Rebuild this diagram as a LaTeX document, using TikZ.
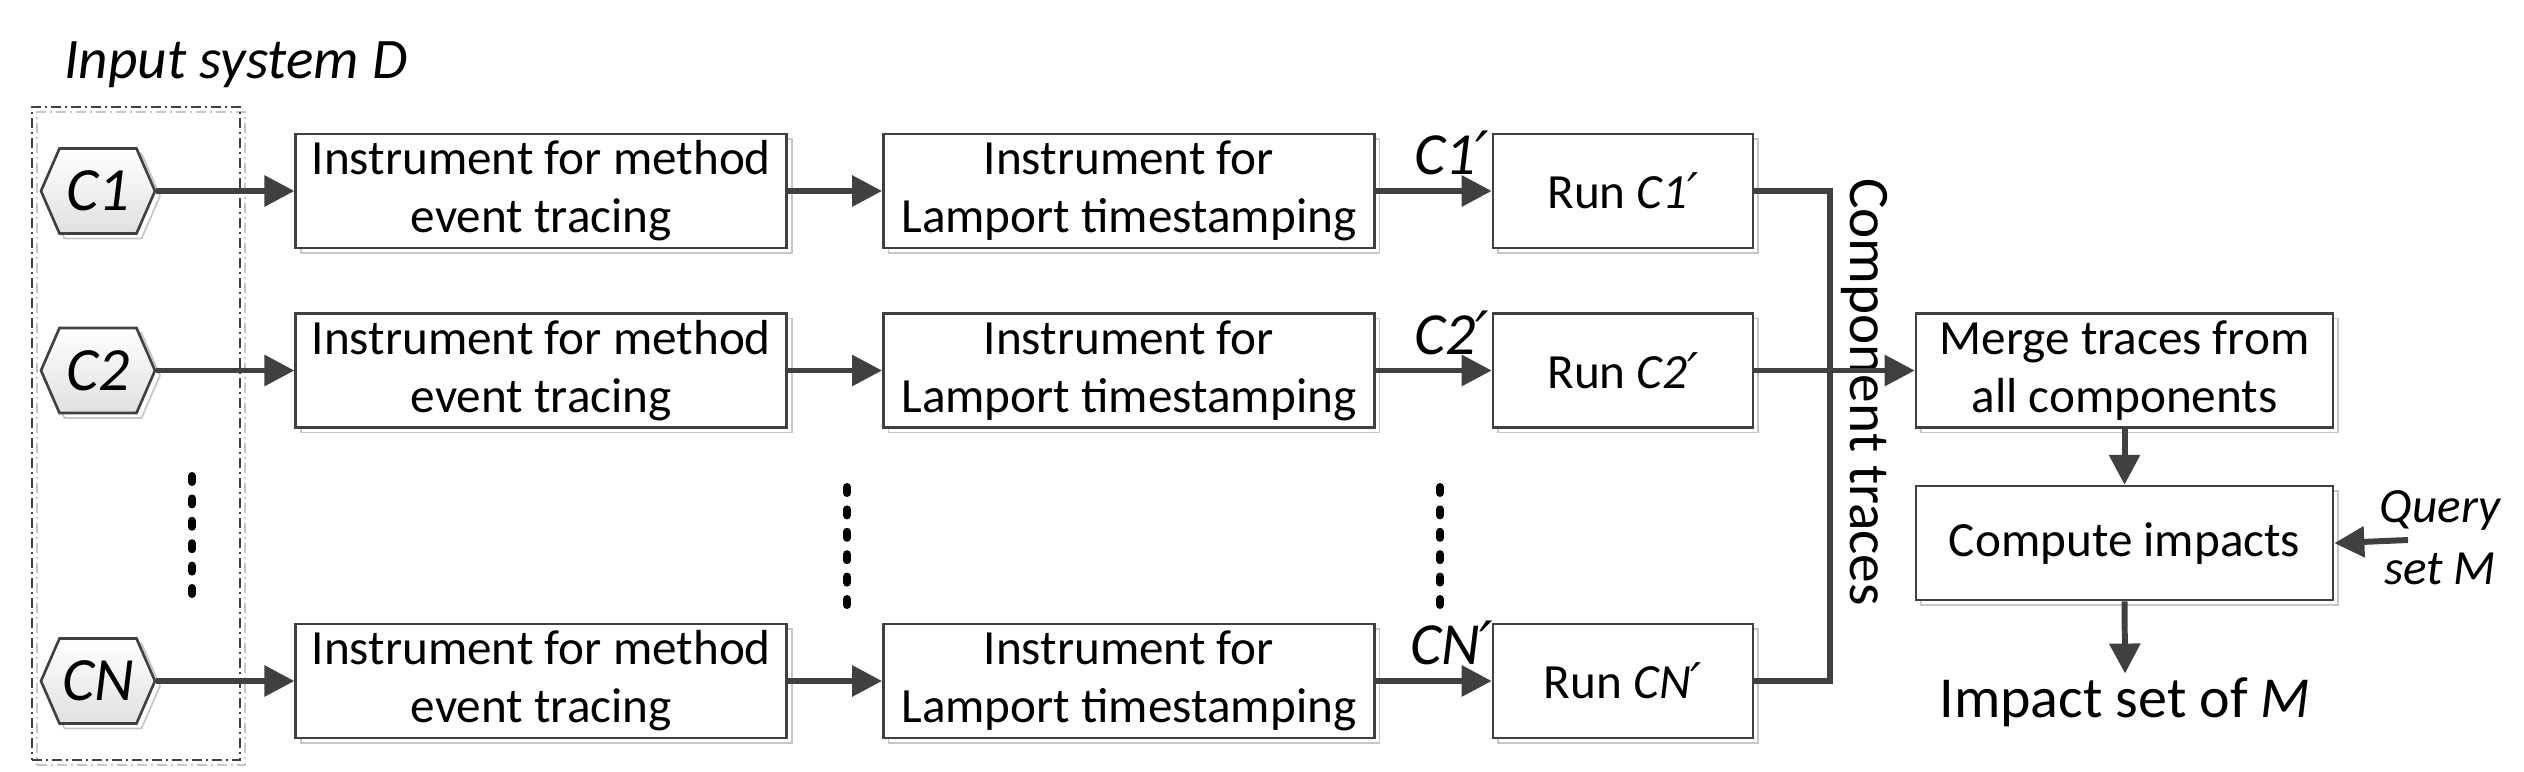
\documentclass[tikz,border=0pt]{standalone}
\usepackage{fontspec}
\setmainfont{Carlito}
\newfontfamily\primefont{DejaVu Sans}
\newcommand{\prm}{{\primefont\itshape ′}}
\usetikzlibrary{arrows.meta}
\usetikzlibrary{positioning}
\usetikzlibrary{shapes.symbols}
\usetikzlibrary{shadows}
\definecolor{linegray}{HTML}{404040}

\begin{document}
\begin{tikzpicture}[
    >={Triangle[length=0.3cm,width=0.3cm]},
    boxShadow/.style={
        drop shadow={shadow xshift=0.05cm, shadow yshift=-0.05cm,
        opacity=1, fill=none, draw=black!22, line width=0.5pt}
    },
    compHex/.style={
        signal, signal to=east and west, signal pointer angle=133,
        draw=linegray, line width=0.75pt,
        top color=white, bottom color=black!12,
        minimum width=1.14cm, minimum height=0.85cm,
        inner sep=0pt, boxShadow,
        font=\fontsize{17.5}{20}\selectfont\itshape
    },
    stepBox/.style={
        rectangle, draw=linegray, line width=0.75pt, fill=white,
        minimum width=4.91cm,
        minimum height=1.14cm,
        inner sep=0pt, align=center, boxShadow,
        font=\fontsize{14}{16.5}\selectfont
    },
    runBox/.style={stepBox, minimum width=2.6cm},
    mergeBox/.style={stepBox, minimum width=4.17cm},
    flowArrow/.style={->, draw=linegray, line width=1.7pt},
    busLine/.style={draw=linegray, line width=1.7pt},
    compLabel/.style={inner sep=0pt, font=\fontsize{17}{20}\selectfont\itshape},
    vDots/.style={line width=0.08cm, line cap=round, dash pattern=on 0.06cm off 0.164cm},
    sysBox/.style={
        draw=linegray, line width=0.5pt,
        dash pattern=on 0.1cm off 0.04cm on 0.02cm off 0.04cm,
        minimum width=2.08cm, minimum height=6.53cm, boxShadow
    }
]
\useasboundingbox (0,0) rectangle (25.24,-7.71);

% input system
\node[anchor=base, font=\fontsize{16.3}{19}\selectfont\itshape] (sysLabel) at (2.36,-0.79) {Input system D};
\node[sysBox] (sys) at (1.36,-4.335) {};
\node[compHex] (c1) at (0.98,-1.91) {C1};
\node[compHex] (c2) at (0.98,-3.705) {C2};
\node[compHex] (cN) at (0.98,-6.81) {CN};

% per-component pipelines
\node[stepBox, right=1.38cm of c1] (trace1) {Instrument for method\\event tracing};
\node[stepBox, right=0.94cm of trace1] (stamp1) {Instrument for\\Lamport timestamping};
\node[runBox, right=1.16cm of stamp1] (run1) {Run \textit{C1}\prm};
\node[stepBox, right=1.38cm of c2] (trace2) {Instrument for method\\event tracing};
\node[stepBox, right=0.94cm of trace2] (stamp2) {Instrument for\\Lamport timestamping};
\node[runBox, right=1.16cm of stamp2] (run2) {Run \textit{C2}\prm};
\node[stepBox, right=1.38cm of cN] (traceN) {Instrument for method\\event tracing};
\node[stepBox, right=0.94cm of traceN] (stampN) {Instrument for\\Lamport timestamping};
\node[runBox, right=1.16cm of stampN] (runN) {Run \textit{CN}\prm};

% analysis
\node[mergeBox] (merge) at (21.245,-3.705) {Merge traces from\\all components};
\node[mergeBox, below=0.56cm of merge] (compute) {Compute impacts};
\node[anchor=base, inner sep=0.03cm, font=\fontsize{16.5}{19}\selectfont] (impact) at (21.25,-7.17) {Impact set of \textit{M}};
\node[align=center, inner sep=0pt, font=\fontsize{14}{17.6}\selectfont\itshape] (query) at (24.40,-5.38) {Query\\set M};
\coordinate (queryIn) at (24.08,-5.40);
\coordinate (bus) at (18.30,-3.705);
\node[rotate=-90, anchor=base, inner sep=0pt, font=\fontsize{16.3}{19}\selectfont] (traces) at (18.50,-3.92) {Component traces};

\draw[vDots] (1.92,-4.76) -- (1.92,-5.95);
\draw[vDots] (8.47,-4.87) -- (8.47,-6.06);
\draw[vDots] (14.40,-4.87) -- (14.40,-6.06);

\draw[flowArrow] (c1.east) -- (trace1.west);
\draw[flowArrow] (trace1.east) -- (stamp1.west);
\draw[flowArrow] (stamp1.east) -- node[compLabel, pos=0.655, above=0.13cm] {C1\prm} (run1.west);
\draw[flowArrow] (c2.east) -- (trace2.west);
\draw[flowArrow] (trace2.east) -- (stamp2.west);
\draw[flowArrow] (stamp2.east) -- node[compLabel, pos=0.655, above=0.13cm] {C2\prm} (run2.west);
\draw[flowArrow] (cN.east) -- (traceN.west);
\draw[flowArrow] (traceN.east) -- (stampN.west);
\draw[flowArrow] (stampN.east) -- node[compLabel, pos=0.655, above=0.13cm] {CN\prm} (runN.west);

\draw[busLine] (run1.east) -| (bus) |- (runN.east);
\draw[flowArrow] (run2.east) -- (merge.west);
\draw[flowArrow] (merge.south) -- (compute.north);
\draw[flowArrow] (queryIn) -- (compute.east);
\draw[flowArrow] (compute.south) -- (impact.north);
\end{tikzpicture}
\end{document}
